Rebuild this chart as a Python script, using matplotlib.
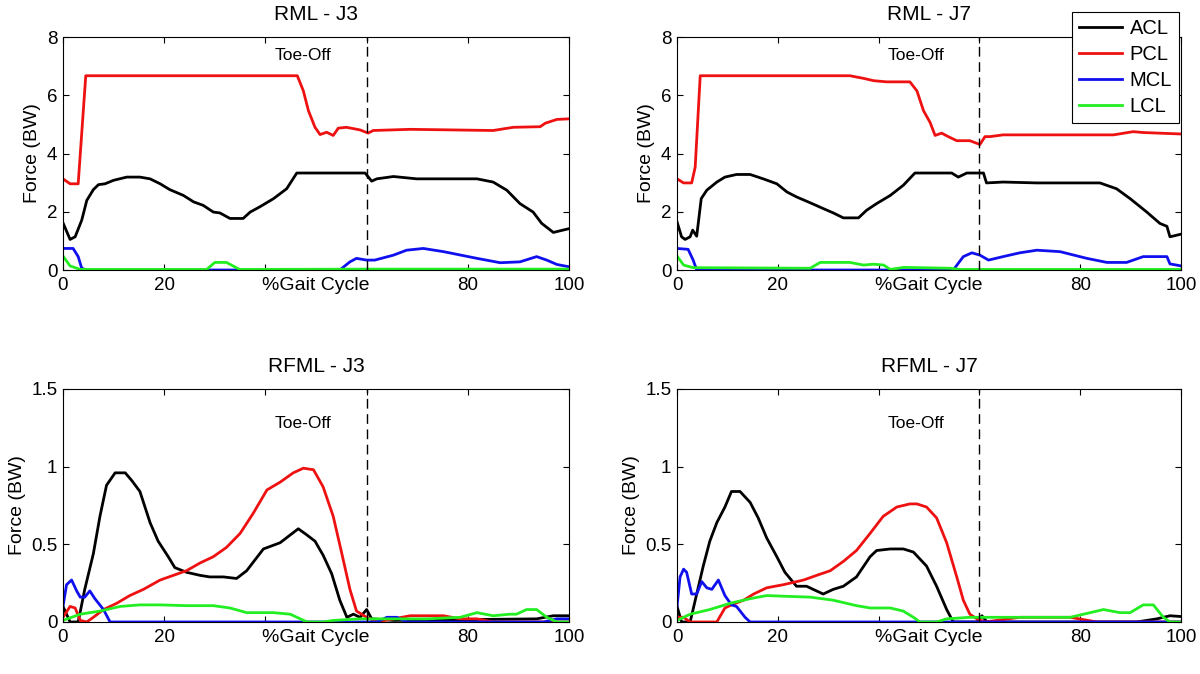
import numpy as np
import matplotlib
matplotlib.use('Agg')
import matplotlib.pyplot as plt

plt.rcParams['font.family'] = ['Liberation Sans', 'DejaVu Sans']

# (% gait cycle, force in BW)
rml_j3_acl = [(0, 1.62), (1.4, 1.05), (2.4, 1.14), (3.7, 1.71), (4.7, 2.39), (6, 2.76), (7, 2.93),
              (8.3, 2.96), (10, 3.08), (12.6, 3.19), (15.2, 3.19), (17.2, 3.13), (19.2, 2.96),
              (21.1, 2.76), (23.8, 2.56), (25.8, 2.34), (27.7, 2.22), (29.7, 1.99), (31, 1.96),
              (33, 1.77), (35.6, 1.77), (37, 1.99), (38.9, 2.17), (41.6, 2.45), (44.2, 2.79),
              (46.2, 3.33), (59.7, 3.33), (61, 3.05), (62, 3.13), (65.3, 3.21), (69.9, 3.13),
              (81.8, 3.13), (85, 3.02), (87.7, 2.74), (90.3, 2.28), (92.9, 1.99), (94.6, 1.6),
              (96.9, 1.29), (100, 1.42)]
rml_j3_pcl = [(0, 3.13), (1.4, 2.96), (3, 2.96), (4.5, 6.67), (46.3, 6.67), (47.5, 6.15),
              (48.5, 5.47), (49.8, 4.9), (50.8, 4.65), (52.1, 4.73), (53.4, 4.62), (54.4, 4.87),
              (56, 4.9), (58.7, 4.81), (60.3, 4.7), (61.3, 4.79), (68.6, 4.83), (85, 4.79),
              (89, 4.9), (94.3, 4.92), (95.3, 5.04), (97.6, 5.17), (100, 5.19)]
rml_j3_mcl = [(0, 0.74), (2, 0.74), (3, 0.46), (3.7, 0.06), (4.7, 0.0), (54.7, 0.0), (56.7, 0.28),
              (58, 0.4), (60, 0.34), (61.6, 0.34), (65.3, 0.51), (67.9, 0.68), (71.2, 0.74),
              (75.2, 0.63), (81.8, 0.4), (86.4, 0.25), (90.3, 0.28), (93.6, 0.46), (95.6, 0.34),
              (97.6, 0.19), (100, 0.11)]
rml_j3_lcl = [(0, 0.48), (1.4, 0.14), (3.4, 0.02), (28.4, 0.02), (30, 0.26), (32.3, 0.26),
              (34.9, 0.02), (60, 0.03), (100, 0.03)]

rml_j7_acl = [(0, 1.65), (0.9, 1.14), (1.6, 1.05), (2.6, 1.14), (3.1, 1.37), (3.9, 1.16),
              (4.8, 2.45), (5.9, 2.74), (7.9, 3.02), (9.5, 3.19), (11.8, 3.28), (14.5, 3.28),
              (17.1, 3.13), (19.8, 2.96), (21.8, 2.68), (23.7, 2.51), (26.4, 2.31), (29, 2.11),
              (31, 1.96), (33, 1.79), (36, 1.79), (37.6, 2.05), (39.6, 2.28), (42.3, 2.56),
              (44.9, 2.91), (47.2, 3.33), (54.5, 3.33), (55.8, 3.19), (57.5, 3.33), (60.8, 3.33),
              (61.4, 2.99), (64.7, 3.02), (71.4, 2.99), (83.9, 2.99), (87.2, 2.79), (89.9, 2.45),
              (93.2, 1.99), (95.8, 1.6), (97.2, 1.5), (97.8, 1.14), (100, 1.23)]
rml_j7_pcl = [(0, 3.13), (1.3, 2.99), (2.9, 2.99), (3.6, 3.53), (4.6, 6.67), (34.3, 6.67),
              (37, 6.58), (39, 6.5), (41.6, 6.46), (46.2, 6.46), (47.6, 6.15), (48.9, 5.47),
              (50.2, 5.07), (51.2, 4.62), (52.5, 4.7), (53.8, 4.58), (55.5, 4.44), (58.1, 4.44),
              (60.1, 4.31), (61.1, 4.58), (62.1, 4.58), (64.7, 4.64), (86.6, 4.64), (90.5, 4.75),
              (92.5, 4.72), (100, 4.67)]
rml_j7_mcl = [(0, 0.74), (2.2, 0.71), (3.2, 0.34), (3.9, 0.0), (54.8, 0.0), (56.8, 0.46),
              (58.5, 0.59), (60.1, 0.51), (61.8, 0.34), (64.7, 0.46), (68, 0.59), (71.4, 0.68),
              (76, 0.63), (81.3, 0.4), (85.3, 0.26), (89.2, 0.26), (92.5, 0.46), (97.2, 0.46),
              (97.8, 0.21), (100, 0.14)]
rml_j7_lcl = [(0, 0.48), (1.3, 0.17), (3.2, 0.08), (26.4, 0.06), (28.4, 0.26), (34.3, 0.26),
              (37, 0.17), (39, 0.2), (41, 0.17), (42.3, 0.02), (45, 0.09), (54.2, 0.06),
              (56.1, 0.02), (100, 0.02)]

rfml_j3_acl = [(0, 0.1), (1.4, 0.0), (3, 0.0), (4.3, 0.21), (6, 0.44), (7.3, 0.68), (8.6, 0.88),
               (10.3, 0.96), (12.3, 0.96), (13.6, 0.91), (15.2, 0.84), (17.2, 0.64), (18.8, 0.52),
               (20.8, 0.42), (22.1, 0.35), (24.4, 0.32), (27.1, 0.3), (29, 0.29), (31.7, 0.29),
               (34.3, 0.28), (36.3, 0.33), (39.6, 0.47), (42.9, 0.51), (44.9, 0.56), (46.5, 0.6),
               (48.2, 0.56), (49.8, 0.52), (51.4, 0.43), (53.1, 0.31), (54.7, 0.14), (56.1, 0.03),
               (57.4, 0.05), (58.7, 0.03), (60, 0.08), (61, 0.02), (65.3, 0.01), (93.6, 0.02),
               (96.9, 0.04), (100, 0.04)]
rfml_j3_pcl = [(0, 0.03), (1.4, 0.1), (2.4, 0.09), (3.4, 0.01), (4.7, 0.0), (6, 0.03), (8, 0.08),
               (10.6, 0.12), (13.2, 0.17), (15.9, 0.21), (19.2, 0.27), (21.8, 0.3), (24.4, 0.33),
               (27.1, 0.38), (29.7, 0.42), (32.3, 0.48), (35, 0.57), (37.6, 0.7), (40.3, 0.85),
               (42.9, 0.9), (45.5, 0.96), (47.5, 0.99), (49.5, 0.98), (51.4, 0.87), (53.4, 0.68),
               (55.1, 0.44), (56.7, 0.21), (58, 0.07), (60, 0.03), (62, 0.0), (68.6, 0.04),
               (75.2, 0.04), (78.5, 0.02), (81.8, 0.02), (85, 0.0), (100, 0.0)]
rfml_j3_mcl = [(0, 0.1), (0.7, 0.24), (1.7, 0.27), (2.7, 0.2), (3.4, 0.16), (4.3, 0.16),
               (5.3, 0.2), (6.3, 0.15), (8, 0.08), (9.3, 0.0), (62, 0.0), (64, 0.03), (66, 0.03),
               (68, 0.0), (95, 0.0), (97.6, 0.02), (100, 0.02)]
rfml_j3_lcl = [(0, 0.01), (3.4, 0.05), (7.3, 0.07), (11.3, 0.1), (15.2, 0.11), (19.2, 0.11),
               (24.4, 0.105), (29.7, 0.105), (33, 0.09), (36.3, 0.06), (41.6, 0.06), (44.9, 0.05),
               (46.9, 0.02), (48.2, 0.0), (51.4, 0.0), (53.4, 0.01), (58.7, 0.02), (65.3, 0.02),
               (71.9, 0.02), (78.5, 0.03), (81.8, 0.06), (85, 0.04), (88.3, 0.05), (89.6, 0.05),
               (91.6, 0.08), (93.6, 0.08), (95.6, 0.03), (97.6, 0.0), (100, 0.0)]

rfml_j7_acl = [(0, 0.1), (0.9, 0.0), (2.6, 0.0), (3.9, 0.18), (5.2, 0.36), (6.5, 0.52),
               (7.9, 0.64), (9.5, 0.74), (10.8, 0.84), (12.5, 0.84), (14.5, 0.77), (16.1, 0.67),
               (17.8, 0.54), (19.8, 0.42), (21.4, 0.32), (23.7, 0.23), (25.7, 0.23), (27, 0.21),
               (29, 0.18), (31, 0.21), (33, 0.23), (35.6, 0.29), (38.3, 0.42), (39.6, 0.46),
               (42.3, 0.47), (44.9, 0.47), (46.9, 0.45), (49.5, 0.36), (51.5, 0.23), (53.5, 0.08),
               (54.8, 0.0), (59.5, 0.0), (60.5, 0.04), (61.5, 0.0), (91.2, 0.0), (95.2, 0.02),
               (97.8, 0.04), (100, 0.035)]
rfml_j7_pcl = [(0, 0.03), (1.3, 0.03), (2.6, 0.0), (7.9, 0.0), (9.5, 0.09), (10.8, 0.11),
               (13.2, 0.14), (15.2, 0.18), (17.8, 0.22), (21.1, 0.24), (25.1, 0.27), (27.7, 0.3),
               (30.4, 0.33), (33, 0.39), (35.6, 0.46), (38.3, 0.57), (40.9, 0.68), (43.6, 0.74),
               (46.2, 0.76), (47.6, 0.76), (49.5, 0.74), (51.5, 0.67), (53.5, 0.51), (55.5, 0.29),
               (56.8, 0.14), (58.1, 0.05), (59.5, 0.02), (61.1, 0.0), (68, 0.03), (78, 0.03),
               (83.3, 0.0), (100, 0.0)]
rfml_j7_mcl = [(0, 0.1), (0.6, 0.29), (1.3, 0.34), (1.9, 0.32), (2.9, 0.18), (3.9, 0.18),
               (4.9, 0.26), (5.9, 0.22), (6.9, 0.21), (8.2, 0.27), (9.5, 0.17), (10.8, 0.11),
               (11.8, 0.1), (13.5, 0.03), (14.5, 0.0), (100, 0.0)]
rfml_j7_lcl = [(0, 0.01), (2.6, 0.05), (6.5, 0.08), (10.5, 0.12), (14.5, 0.15), (17.8, 0.17),
               (21.8, 0.165), (26.4, 0.16), (31, 0.14), (35.6, 0.105), (38.3, 0.09), (42.3, 0.09),
               (44.9, 0.07), (46.9, 0.03), (48.2, 0.0), (51.5, 0.0), (53.5, 0.02), (58.1, 0.03),
               (64.8, 0.03), (78, 0.03), (83.3, 0.07), (84.6, 0.08), (87.9, 0.06), (89.9, 0.06),
               (92.5, 0.11), (94.5, 0.11), (96.5, 0.03), (97.8, 0.0), (100, 0.0)]

ligaments = ['ACL', 'PCL', 'MCL', 'LCL']
colors = ['black', '#ee1111', '#1010ee', '#22ee22']
toe_off = 60
xticks = [0, 20, 40, 60, 80, 100]
xticklabels = ['0', '20', '', '', '80', '100']  # 40 and 60 sit under the x label

panels = [
    ('RML - J3', [rml_j3_acl, rml_j3_pcl, rml_j3_mcl, rml_j3_lcl], 8, [0, 2, 4, 6, 8], 7.35),
    ('RML - J7', [rml_j7_acl, rml_j7_pcl, rml_j7_mcl, rml_j7_lcl], 8, [0, 2, 4, 6, 8], 7.35),
    ('RFML - J3', [rfml_j3_acl, rfml_j3_pcl, rfml_j3_mcl, rfml_j3_lcl], 1.5, [0, 0.5, 1, 1.5], 1.28),
    ('RFML - J7', [rfml_j7_acl, rfml_j7_pcl, rfml_j7_mcl, rfml_j7_lcl], 1.5, [0, 0.5, 1, 1.5], 1.28),
]
positions = [
    [0.0525, 0.5994, 0.4217, 0.3457],
    [0.5642, 0.5994, 0.4200, 0.3457],
    [0.0525, 0.0772, 0.4217, 0.3457],
    [0.5642, 0.0772, 0.4200, 0.3457],
]

fig = plt.figure(figsize=(12, 6.74), dpi=100)

for (title, series, ymax, yticks, text_y), pos in zip(panels, positions):
    ax = fig.add_axes(pos)
    lines = []
    for s, name, c in zip(series, ligaments, colors):
        x, y = zip(*s)
        ln, = ax.plot(x, y, color=c, linewidth=2, label=name)
        lines.append(ln)
    ax.axvline(toe_off, color='black', linestyle=(0, (7, 4)), linewidth=1)
    ax.text(47.5, text_y, 'Toe-Off', ha='center', va='center', fontsize=12.5)
    ax.set_xlim(0, 100)
    ax.set_ylim(0, ymax)
    ax.set_xticks(xticks)
    ax.set_xticklabels(xticklabels)
    ax.set_yticks(yticks)
    ax.set_yticklabels([f'{t:g}' for t in yticks])
    ax.tick_params(direction='in', top=True, right=True, length=4, width=0.8, labelsize=13.5)
    ax.tick_params(axis='x', pad=5)
    ax.tick_params(axis='y', pad=4)
    ax.set_title(title, fontsize=15, pad=12)
    ax.set_xlabel('%Gait Cycle', fontsize=14)
    ax.xaxis.set_label_coords(0.5, -0.03)
    ax.set_ylabel('Force (BW)', fontsize=14, labelpad=4)
    for sp in ax.spines.values():
        sp.set_linewidth(0.8)
    if title == 'RML - J7':
        leg = ax.legend(handles=lines, loc='upper right', bbox_to_anchor=(1179 / 1200, 1 - 12 / 674),
                        bbox_transform=fig.transFigure, fontsize=14.5, fancybox=False,
                        edgecolor='black', framealpha=1, handlelength=2.1, handletextpad=0.4,
                        borderaxespad=0, labelspacing=0.35, borderpad=0.35)
        leg.get_frame().set_linewidth(0.8)

fig.savefig('out.png', dpi=100)
